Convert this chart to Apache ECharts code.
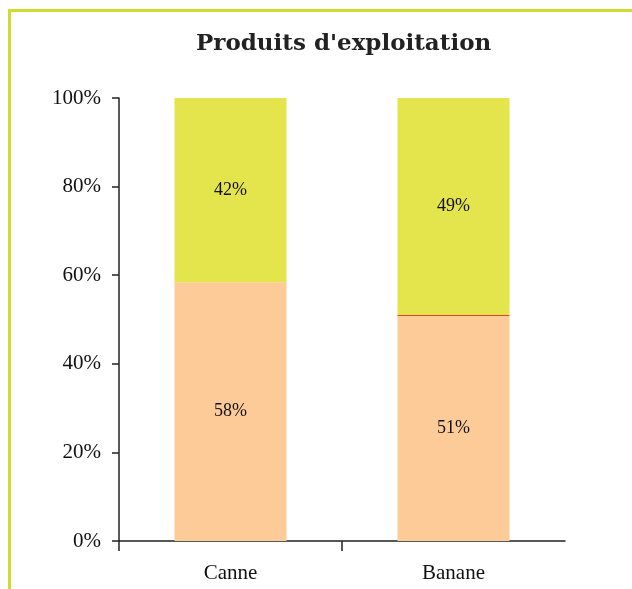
<!DOCTYPE html>
<html>
<head>
<meta charset="utf-8">
<script src="https://cdn.jsdelivr.net/npm/echarts@6/dist/echarts.min.js"></script>
<style>
  html, body { margin: 0; padding: 0; background: #fff; }
  #chart { width: 632px; height: 589px; }
</style>
</head>
<body>
<div id="chart"></div>
<script>
// ==============================================================
// Produits d'exploitation - stacked 100% bars
// ==============================================================
var categories = ['Canne', 'Banane'];
var partBasse = [58.4, 50.8];   // orange part
var partTrait = [0, 0.2];       // thin red band (Banane only)
var partHaute = [41.6, 49];     // yellow part
var yTicks = [0, 20, 40, 60, 80, 100];

var serif = '"Liberation Serif", "Times New Roman", serif';

// one slot per category boundary, used only for the x ticks
var tickSlots = categories.concat(['']).map(function () { return ''; });

var myChart = echarts.init(document.getElementById('chart'));

function pct(p) {
    return p.value > 1 ? Math.round(p.value) + '%' : '';
}

option = {
    animation: false,
    title: {
        text: "Produits d'exploitation",
        left: 191,
        top: 28,
        textStyle: {
            fontFamily: '"DejaVu Serif", Georgia, serif',
            fontWeight: 'bold',
            fontSize: 23,
            color: '#222'
        }
    },
    graphic: [
        { type: 'line', shape: { x1: 8, y1: 10.5, x2: 632, y2: 10.5 }, style: { stroke: '#cfdd2e', lineWidth: 3 } },
        { type: 'line', shape: { x1: 9.5, y1: 9, x2: 9.5, y2: 589 }, style: { stroke: '#cfdd2e', lineWidth: 3 } }
    ],
    grid: { left: 119, top: 98, right: 67, bottom: 48 },
    xAxis: [
        {
            type: 'category',
            position: 'bottom',
            data: categories,
            axisLine: { show: true, lineStyle: { color: '#222', width: 1.5 } },
            axisTick: { show: false },
            axisLabel: { fontFamily: serif, fontSize: 21, color: '#111', margin: 22 }
        },
        {
            // boundary ticks, without the one at the far right end
            type: 'category',
            position: 'bottom',
            boundaryGap: false,
            data: tickSlots,
            axisLine: { show: false },
            axisLabel: { show: false },
            axisTick: {
                show: true,
                interval: function (i) { return i < categories.length; },
                length: 10,
                lineStyle: { color: '#222', width: 1.5 }
            }
        }
    ],
    yAxis: {
        type: 'value',
        min: yTicks[0],
        max: yTicks[yTicks.length - 1],
        interval: 20,
        splitLine: { show: false },
        axisLine: { show: true, lineStyle: { color: '#222', width: 1.5 } },
        axisTick: { show: true, length: 7, lineStyle: { color: '#222', width: 1.5 } },
        axisLabel: { formatter: '{value}%', fontFamily: serif, fontSize: 21, color: '#111', margin: 18 }
    },
    series: [
        {
            name: 'Bas',
            type: 'bar',
            stack: 'total',
            barWidth: 112,
            data: partBasse,
            itemStyle: { color: '#fdcb98' },
            label: { show: true, position: 'inside', formatter: pct, fontFamily: serif, fontSize: 18, color: '#111' }
        },
        {
            name: 'Trait',
            type: 'bar',
            stack: 'total',
            barWidth: 112,
            data: partTrait,
            itemStyle: { color: '#d9442a' }
        },
        {
            name: 'Haut',
            type: 'bar',
            stack: 'total',
            barWidth: 112,
            data: partHaute,
            itemStyle: { color: '#e4e44c' },
            label: { show: true, position: 'inside', formatter: pct, fontFamily: serif, fontSize: 18, color: '#111' }
        }
    ]
};

myChart.setOption(option, true);
</script>
</body>
</html>
